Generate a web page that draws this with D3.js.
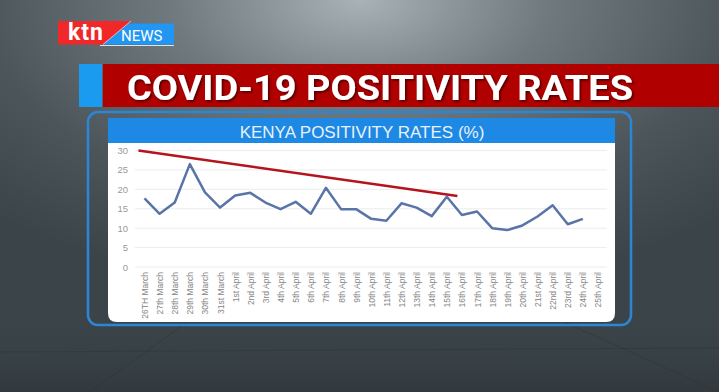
<!DOCTYPE html>
<html>
<head>
<meta charset="utf-8">
<script src="https://cdn.jsdelivr.net/npm/d3@7"></script>
<style>
  html, body { margin: 0; padding: 0; background: #4a5358; }
  svg { display: block; }
</style>
</head>
<body>
<svg id="chart" width="719" height="392"></svg>
<script>
// categories on the x axis
var days = ['26TH March', '27th March', '28th March', '29th March', '30th March', '31st March',
    '1st April', '2nd April', '3rd April', '4th April', '5th April', '6th April', '7th April',
    '8th April', '9th April', '10th April', '11th April', '12th April', '13th April', '14th April',
    '15th April', '16th April', '17th April', '18th April', '19th April', '20th April', '21st April',
    '22nd April', '23rd April', '24th April', '25th April'];

// positivity rate (%) per day, last day has no value
var rates = [17.7, 13.7, 16.6, 26.5, 19.2, 15.3, 18.4, 19.1, 16.6, 14.9, 16.8, 13.7, 20.4, 14.9,
    14.9, 12.4, 11.9, 16.4, 15.3, 13.1, 18.1, 13.4, 14.3, 10.0, 9.5, 10.7, 13.0, 15.9, 11.0, 12.4];

var yTicks = [0, 5, 10, 15, 20, 25, 30];

// hand drawn trend line: [day index, rate]
var trend = [[-0.4, 30], [20.7, 18.3]];

var svg = d3.select('#chart');
var defs = svg.append('defs');

// studio background
var bg = defs.append('radialGradient').attr('id', 'bg')
    .attr('cx', '50%').attr('cy', '0%').attr('r', '75%');
bg.append('stop').attr('offset', '0%').attr('stop-color', '#a9b2b6');
bg.append('stop').attr('offset', '35%').attr('stop-color', '#6f797e');
bg.append('stop').attr('offset', '70%').attr('stop-color', '#4b555a');
bg.append('stop').attr('offset', '100%').attr('stop-color', '#3b4448');
svg.append('rect').attr('width', 719).attr('height', 392).attr('fill', 'url(#bg)');

var floor = defs.append('linearGradient').attr('id', 'floor')
    .attr('x1', 0).attr('y1', 0).attr('x2', 0).attr('y2', 1);
floor.append('stop').attr('offset', '0%').attr('stop-color', '#3d464b').attr('stop-opacity', 0);
floor.append('stop').attr('offset', '100%').attr('stop-color', '#2f373b').attr('stop-opacity', 0.8);
svg.append('rect').attr('y', 300).attr('width', 719).attr('height', 92).attr('fill', 'url(#floor)');

// faint floor lines
var floorLines = svg.append('g').attr('stroke', '#2a3135').attr('stroke-opacity', 0.4).attr('stroke-width', 1);
floorLines.append('line').attr('x1', 90).attr('y1', 392).attr('x2', 190).attr('y2', 320);
floorLines.append('line').attr('x1', 0).attr('y1', 352).attr('x2', 719).attr('y2', 348);
floorLines.append('line').attr('x1', 560).attr('y1', 320).attr('x2', 719).attr('y2', 392);

// ktn news logo
var logo = svg.append('g');
logo.append('path').attr('d', 'M129,23.5 L174,23.5 L174,44.5 L102,44.5 Z').attr('fill', '#2196f3');
logo.append('path').attr('d', 'M58,21 L131,21 L103,44.5 L58,44.5 Z').attr('fill', '#f0282a');
logo.append('line').attr('x1', 131).attr('y1', 21).attr('x2', 103).attr('y2', 44.5)
    .attr('stroke', '#f3d6d6').attr('stroke-width', 0.8);
logo.append('line').attr('x1', 100).attr('y1', 45.5).attr('x2', 174).attr('y2', 45.5)
    .attr('stroke', '#dfe6ea').attr('stroke-width', 1);
logo.append('text').attr('x', 68).attr('y', 40).text('ktn')
    .attr('font-family', 'Roboto, sans-serif').attr('font-weight', 'bold')
    .attr('font-size', 23).attr('fill', '#fff')
    .attr('textLength', 35).attr('lengthAdjust', 'spacing');
logo.append('text').attr('x', 121).attr('y', 41).text('NEWS')
    .attr('font-family', 'Roboto, sans-serif').attr('font-size', 15).attr('fill', '#fff');

// red heading bar
svg.append('rect').attr('x', 79).attr('y', 64).attr('width', 23).attr('height', 43).attr('fill', '#1a9bf0');
svg.append('rect').attr('x', 103).attr('y', 64).attr('width', 616).attr('height', 43).attr('fill', '#b10000');
var shadow = defs.append('filter').attr('id', 'shadow').attr('x', '-5%').attr('y', '-20%')
    .attr('width', '110%').attr('height', '150%');
shadow.append('feDropShadow').attr('dx', 1.5).attr('dy', 1.5).attr('stdDeviation', 1)
    .attr('flood-color', '#300').attr('flood-opacity', 0.8);
svg.append('text').attr('x', 127).attr('y', 100).text('COVID-19 POSITIVITY RATES')
    .attr('font-family', '"Liberation Sans Narrow", "Roboto", sans-serif')
    .attr('font-weight', 'bold').attr('font-size', 35).attr('fill', '#fff')
    .attr('textLength', 506).attr('lengthAdjust', 'spacingAndGlyphs')
    .attr('filter', 'url(#shadow)');

// chart frame
svg.append('rect').attr('x', 88).attr('y', 112).attr('width', 543).attr('height', 213)
    .attr('rx', 10).attr('fill', 'none').attr('stroke', '#2c86d8').attr('stroke-width', 2.5);
svg.append('path')
    .attr('d', 'M108,143 L615,143 L615,313 Q615,322 606,322 L117,322 Q108,322 108,313 Z')
    .attr('fill', '#fff');
svg.append('rect').attr('x', 108).attr('y', 118).attr('width', 507).attr('height', 25).attr('fill', '#1e88e5');
svg.append('text').attr('x', 362).attr('y', 137.5).attr('text-anchor', 'middle')
    .text('KENYA POSITIVITY RATES (%)')
    .attr('font-family', '"Liberation Sans", Arial, sans-serif')
    .attr('font-size', 17).attr('fill', '#e8f2fb');

// scales
var x = d3.scalePoint().domain(days).range([144.5, 598]);
var xi = d3.scaleLinear().domain([0, days.length - 1]).range([144.5, 598]);
var y = d3.scaleLinear().domain([0, 30]).range([267, 150.5]);

// grid
svg.append('g').selectAll('line').data(yTicks).join('line')
    .attr('x1', 135).attr('x2', 607)
    .attr('y1', function(d) { return y(d); }).attr('y2', function(d) { return y(d); })
    .attr('stroke', '#ececec').attr('stroke-width', 1);

var yAxis = svg.append('g').attr('transform', 'translate(128,0)')
    .call(d3.axisLeft(y).tickValues(yTicks).tickSize(0).tickPadding(0));
yAxis.select('.domain').remove();
yAxis.selectAll('text').attr('fill', '#9a9a9a').attr('font-size', 9.5)
    .attr('font-family', '"Liberation Sans", Arial, sans-serif');

var xAxis = svg.append('g').attr('transform', 'translate(0,272)')
    .call(d3.axisBottom(x).tickSize(0).tickPadding(0));
xAxis.select('.domain').remove();
xAxis.selectAll('text')
    .attr('transform', 'rotate(-90)')
    .attr('text-anchor', 'end')
    .attr('x', 0).attr('y', 0).attr('dy', '0.35em')
    .attr('fill', '#858585').attr('font-size', 8.5)
    .attr('font-family', '"Liberation Sans Narrow", "Liberation Sans", sans-serif');

// rate line
var line = d3.line()
    .x(function(d, i) { return x(days[i]); })
    .y(function(d) { return y(d); });
svg.append('path').datum(rates)
    .attr('d', line)
    .attr('fill', 'none').attr('stroke', '#5a74a8').attr('stroke-width', 2.5)
    .attr('stroke-linejoin', 'round');

// trend line
svg.append('path').datum(trend)
    .attr('d', d3.line().x(function(d) { return xi(d[0]); }).y(function(d) { return y(d[1]); }))
    .attr('stroke', '#b5141c').attr('stroke-width', 2.5).attr('fill', 'none');
</script>
</body>
</html>
